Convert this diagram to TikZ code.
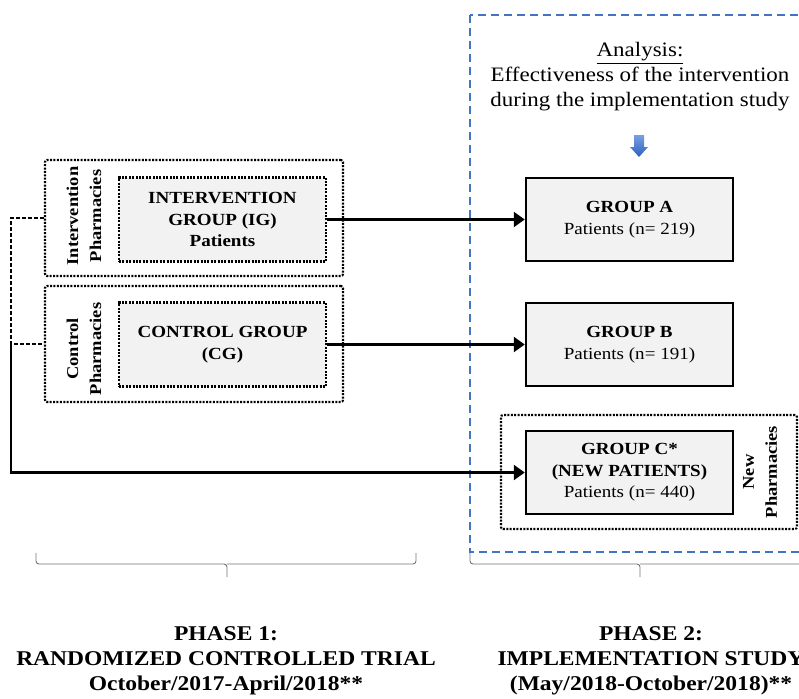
\documentclass[tikz,border=0pt]{standalone}
\usepackage{fontspec}
\setmainfont{Liberation Serif}[FakeStretch=1.12]
\usetikzlibrary{arrows.meta}

\definecolor{frameblue}{RGB}{68,114,196}
\definecolor{arrowtop}{RGB}{120,160,225}
\definecolor{arrowbot}{RGB}{45,95,190}
\definecolor{boxgray}{RGB}{242,242,242}

\tikzset{
  pharmbox/.style={draw, line width=2.1pt, dash pattern=on 2pt off 1.4pt, rounded corners=2pt,
    minimum width=298pt, minimum height=116pt, inner sep=0pt},
  rctbox/.style={draw, fill=boxgray, line width=2.1pt, dash pattern=on 2pt off 1.4pt,
    minimum width=207pt, minimum height=84pt, inner sep=0pt, align=center,
    font=\fontsize{17}{21.5}\selectfont\bfseries},
  groupbox/.style={draw, fill=boxgray, line width=2.5pt, minimum width=207pt, minimum height=83pt,
    inner sep=0pt, align=center, font=\fontsize{17}{21.5}\selectfont},
  sidelabel/.style={rotate=90, align=center, inner sep=0pt, font=\fontsize{16.5}{23}\selectfont\bfseries},
  phaselabel/.style={align=center, inner sep=0pt, font=\fontsize{21}{25}\selectfont\bfseries},
  link/.style={line width=2.3pt, -{Triangle[length=11pt,width=15pt]}},
  pharmlink/.style={line width=1.5pt, dash pattern=on 4pt off 2pt},
  phasebrace/.style={draw=gray!90!black, line width=0.9pt, rounded corners=3pt}
}

\begin{document}
\begin{tikzpicture}[x=1pt, y=-1pt]
\useasboundingbox (0,0) rectangle (799,698);
\clip (0,0) rectangle (799,698);

% Phase 2 frame
\draw[frameblue, line width=1.3pt, dash pattern=on 8pt off 5pt] (470,15) rectangle (812,552);
\node[align=center, inner sep=0pt, font=\fontsize{20.5}{25}\selectfont] (analysis) at (640,77)
  {\underline{Analysis:}\\Effectiveness of the intervention\\during the implementation study};
\shade[top color=arrowtop, bottom color=arrowbot] (634,135) -- (644,135) -- (644,147) -- (648,147)
  -- (639,157) -- (630,147) -- (634,147) -- cycle;

% Phase 1 pharmacies
\node[pharmbox] (intph) at (194,218) {};
\node[sidelabel] (intlabel) at (84,216) {Intervention\\Pharmacies};
\node[rctbox] (ig) at (222.5,219.5) {INTERVENTION\\GROUP (IG)\\Patients};
\node[pharmbox] (ctrlph) at (194,344) {};
\node[sidelabel] (ctrllabel) at (84,349) {Control\\Pharmacies};
\node[rctbox] (cg) at (222.5,344.5) {CONTROL GROUP\\(CG)};

% Phase 2 groups
\node[groupbox] (grpA) at (629.5,219.5) {{\bfseries GROUP A}\\Patients (n= 219)};
\node[groupbox] (grpB) at (629.5,344.5) {{\bfseries GROUP B}\\Patients (n= 191)};
\node[pharmbox, minimum width=296pt, minimum height=114pt] (newph) at (649,472) {};
\node[groupbox] (grpC) at (629.5,472.5) {{\bfseries GROUP C*}\\{\bfseries (NEW PATIENTS)}\\Patients (n= 440)};
\node[sidelabel] (newlabel) at (760,472) {New\\Pharmacies};

% Connectors
\draw[link] (ig.east) -- (grpA.west);
\draw[link] (cg.east) -- (grpB.west);
\draw[pharmlink] (intph.west) -- ++(-33,0) |- (ctrlph.west) coordinate[pos=0.5] (split);
\draw[link] (split) |- (grpC.west);

% Braces and phase titles
\draw[phasebrace] (36,553) |- (227,564) -- (227,577);
\draw[phasebrace] (416,553) |- (227,564);
\draw[phasebrace] (470,553) |- (640,564) -- (640,577);
\draw[phasebrace] (810,553) |- (640,564);
\node[phaselabel] (phase1) at (226,661) {PHASE 1:\\RANDOMIZED CONTROLLED TRIAL\\October/2017-April/2018**};
\node[phaselabel] (phase2) at (651,661) {PHASE 2:\\IMPLEMENTATION STUDY\\(May/2018-October/2018)**};
\end{tikzpicture}
\end{document}
